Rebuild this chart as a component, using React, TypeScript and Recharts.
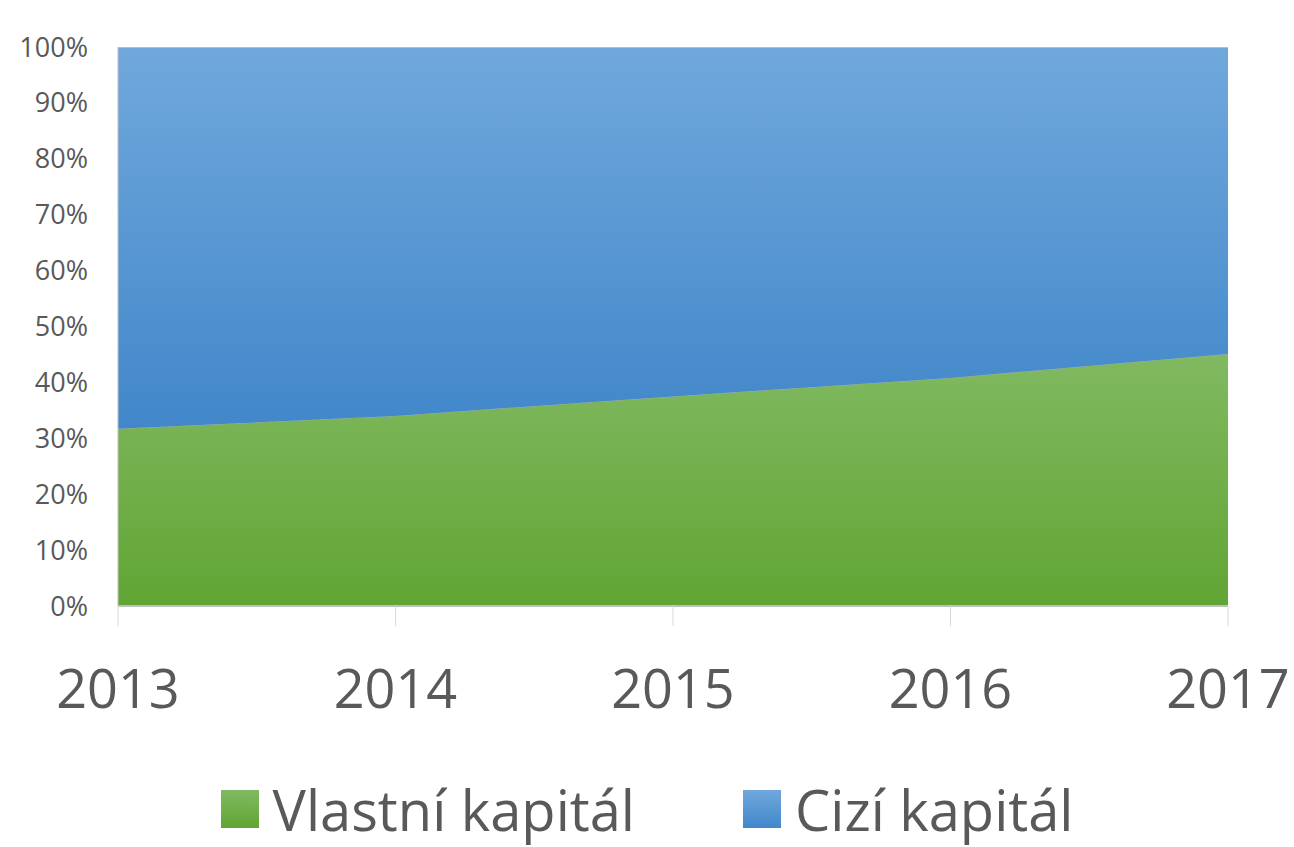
import { AreaChart, Area, XAxis, YAxis, Legend } from 'recharts';

const years = ['2013', '2014', '2015', '2016', '2017'];
const vlastni = [31.7, 34.0, 37.5, 40.8, 45.1];
const cizi = [68.3, 66.0, 62.5, 59.2, 54.9];
const yTicks = [0, 10, 20, 30, 40, 50, 60, 70, 80, 90, 100];

const data = years.map((year, i) => ({ year, vlastni: vlastni[i], cizi: cizi[i] }));

const FONT = '"Open Sans", sans-serif';
const TEXT = '#595959';

const legendItems = [
  { label: 'Vlastní kapitál', grad: 'url(#gGreen)' },
  { label: 'Cizí kapitál', grad: 'url(#gBlue)' },
];

function LegendBox() {
  return (
    <div style={{ display: 'flex', justifyContent: 'center', gap: 108, paddingTop: 10, fontFamily: FONT, color: TEXT, fontSize: 56, lineHeight: '66px' }}>
      {legendItems.map((it) => (
        <div key={it.label} style={{ display: 'flex', alignItems: 'center' }}>
          <svg width={38} height={38} style={{ marginRight: 14 }}>
            <rect width={38} height={38} fill={it.grad} />
          </svg>
          <span>{it.label}</span>
        </div>
      ))}
    </div>
  );
}

export default function App() {
  return (
    <div style={{ position: 'absolute', left: 0, top: 0, background: '#fff' }}>
      <AreaChart width={1294} height={847} data={data} margin={{ top: 47, right: 66, left: 0, bottom: 0 }}>
        <defs>
          <linearGradient id="gGreen" x1="0" y1="0" x2="0" y2="1">
            <stop offset="0%" stopColor="#81b961" />
            <stop offset="100%" stopColor="#61a534" />
          </linearGradient>
          <linearGradient id="gBlue" x1="0" y1="0" x2="0" y2="1">
            <stop offset="0%" stopColor="#70a8dc" />
            <stop offset="100%" stopColor="#4187ca" />
          </linearGradient>
        </defs>
        <XAxis
          dataKey="year"
          tick={{ fill: TEXT, fontSize: 54, fontFamily: FONT }}
          tickLine={{ stroke: '#d9d9d9' }}
          tickSize={20}
          tickMargin={44}
          axisLine={{ stroke: '#bfbfbf', strokeWidth: 2 }}
          height={160}
          interval={0}
        />
        <YAxis
          domain={[0, 100]}
          ticks={yTicks}
          tickFormatter={(v) => `${v}%`}
          tick={{ fill: TEXT, fontSize: 27, fontFamily: FONT }}
          tickLine={false}
          tickSize={0}
          tickMargin={30}
          axisLine={{ stroke: '#bfbfbf' }}
          width={118}
          allowDataOverflow
        />
        <YAxis yAxisId="r" orientation="right" width={0} tick={false} tickLine={false} axisLine={{ stroke: '#c8c8c8' }} />
        <Legend
          verticalAlign="bottom"
          height={81}
          wrapperStyle={{ left: 0, width: 1294 }}
          content={() => <LegendBox />}
        />
        <Area
          type="linear"
          dataKey="vlastni"
          stackId="a"
          fill="url(#gGreen)"
          fillOpacity={1}
          stroke="#9aa98f"
          strokeWidth={0.8}
          isAnimationActive={false}
        />
        <Area
          type="linear"
          dataKey="cizi"
          stackId="a"
          fill="url(#gBlue)"
          fillOpacity={1}
          stroke="#bcbcbc"
          strokeWidth={2}
          isAnimationActive={false}
        />
      </AreaChart>
    </div>
  );
}
